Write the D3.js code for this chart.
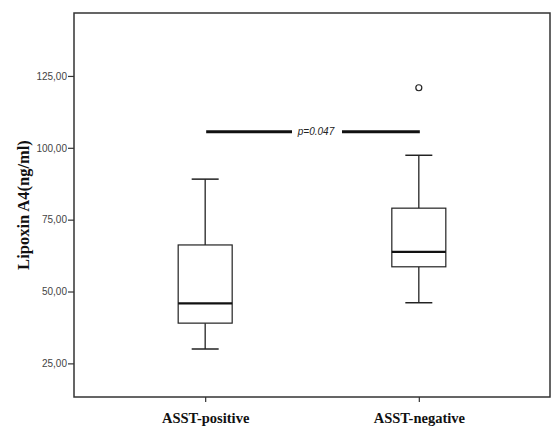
<!DOCTYPE html>
<html><head><meta charset="utf-8">
<script src="https://cdn.jsdelivr.net/npm/d3@7/dist/d3.min.js"></script>
<style>body{margin:0;background:#fff}</style>
</head><body>
<script>
const categories = ["ASST-positive", "ASST-negative"];
const whiskerLow = [30.0, 46.1];
const q1 = [39.0, 58.6];
const median = [45.9, 63.8];
const q3 = [66.2, 79.0];
const whiskerHigh = [89.1, 97.4];
const outliers = [[], [120.9]];
const yTicks = [25, 50, 75, 100, 125];
const sigValue = 105.6;
const sigLabel = "p=0.047";

const W = 551, H = 427;
const svg = d3.select("body").append("svg").attr("width", W).attr("height", H);
const L = 74, R = 550, T = 13, B = 397;
const y = d3.scaleLinear().domain([13.3, 146.9]).range([B, T]);
const x = d3.scalePoint().domain(categories).range([L, R]).padding(0.614);
const boxW = 54, capW = 27;

// frame
svg.append("rect").attr("x", L).attr("y", T).attr("width", R - L).attr("height", B - T)
  .attr("fill", "none").attr("stroke", "#333").attr("stroke-width", 1.5);

// y axis
const yAxis = svg.append("g").attr("transform", `translate(${L},0)`)
  .call(d3.axisLeft(y).tickValues(yTicks).tickSize(6).tickPadding(1)
    .tickFormat(d => d3.format(".2f")(d).replace(".", ",")));
yAxis.select(".domain").remove();
yAxis.selectAll("line").attr("stroke", "#333").attr("stroke-width", 1.2);
yAxis.selectAll("text").attr("font-family", "Arial, 'Liberation Sans', sans-serif")
  .attr("font-size", 10).attr("fill", "#444");

// x axis
const xAxis = svg.append("g").attr("transform", `translate(0,${B})`)
  .call(d3.axisBottom(x).tickSize(5).tickPadding(11));
xAxis.select(".domain").remove();
xAxis.selectAll("line").attr("stroke", "#333").attr("stroke-width", 1.2);
xAxis.selectAll("text").attr("font-family", "'Liberation Serif', 'Times New Roman', serif")
  .attr("font-weight", "bold").attr("font-size", 14.5).attr("fill", "#111");

// y label
svg.append("text").attr("transform", `translate(29,${(T + B) / 2}) rotate(-90)`)
  .attr("text-anchor", "middle")
  .attr("font-family", "'Liberation Serif', 'Times New Roman', serif")
  .attr("font-weight", "bold").attr("font-size", 16.5).attr("fill", "#111")
  .text("Lipoxin A4(ng/ml)");

// boxes
categories.forEach((c, i) => {
  const cx = x(c);
  const g = svg.append("g").attr("stroke", "#222").attr("fill", "none");
  g.append("line").attr("x1", cx).attr("x2", cx).attr("y1", y(whiskerHigh[i])).attr("y2", y(q3[i])).attr("stroke-width", 1.3);
  g.append("line").attr("x1", cx).attr("x2", cx).attr("y1", y(q1[i])).attr("y2", y(whiskerLow[i])).attr("stroke-width", 1.3);
  g.append("line").attr("x1", cx - capW / 2).attr("x2", cx + capW / 2).attr("y1", y(whiskerHigh[i])).attr("y2", y(whiskerHigh[i])).attr("stroke-width", 1.5);
  g.append("line").attr("x1", cx - capW / 2).attr("x2", cx + capW / 2).attr("y1", y(whiskerLow[i])).attr("y2", y(whiskerLow[i])).attr("stroke-width", 1.5);
  g.append("rect").attr("x", cx - boxW / 2).attr("width", boxW)
    .attr("y", y(q3[i])).attr("height", y(q1[i]) - y(q3[i])).attr("fill", "#fff").attr("stroke-width", 1.2);
  g.append("line").attr("x1", cx - boxW / 2).attr("x2", cx + boxW / 2).attr("y1", y(median[i])).attr("y2", y(median[i])).attr("stroke-width", 2.3).attr("stroke", "#111");
  outliers[i].forEach(v => {
    g.append("circle").attr("cx", cx).attr("cy", y(v)).attr("r", 3).attr("stroke-width", 1.2).attr("fill", "#fff");
  });
});

// significance line
const sx1 = x(categories[0]) + 1, sx2 = x(categories[1]) + 1;
const sy = y(sigValue);
const tx = (sx1 + sx2) / 2 + 3;
const gapHalf = 24;
svg.append("line").attr("x1", sx1).attr("x2", tx - gapHalf).attr("y1", sy).attr("y2", sy).attr("stroke", "#111").attr("stroke-width", 3);
svg.append("line").attr("x1", tx + gapHalf + 2).attr("x2", sx2).attr("y1", sy).attr("y2", sy).attr("stroke", "#111").attr("stroke-width", 3);
svg.append("text").attr("x", tx).attr("y", sy + 3.5).attr("text-anchor", "middle")
  .attr("font-family", "Arial, 'Liberation Sans', sans-serif").attr("font-style", "italic")
  .attr("font-size", 10).attr("fill", "#222").text(sigLabel);
</script>
</body></html>
